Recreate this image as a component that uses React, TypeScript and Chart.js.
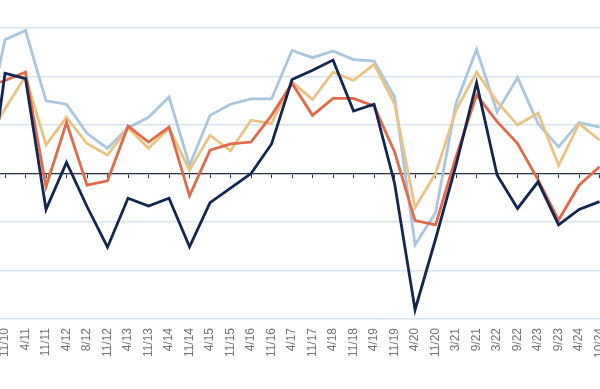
import React, { useEffect, useRef } from "react";
import { Chart, registerables } from "chart.js";

Chart.register(...registerables);

// Period labels (first one lies just left of the visible area)
const labels = [
  "4/10", "11/10", "4/11", "11/11", "4/12", "8/12", "11/12", "4/13", "11/13", "4/14",
  "11/14", "4/15", "11/15", "4/16", "11/16", "4/17", "11/17", "4/18", "11/18", "4/19",
  "11/19", "4/20", "11/20", "3/21", "9/21", "3/22", "9/22", "4/23", "9/23", "4/24", "10/24",
];

const navySeries = [
  -10.7, 20.7, 19.6, -7.4, 2.3, -6.8, -15.2, -5.1, -6.7, -5.1, -15.1, -6.0, -3.0, 0.0, 6.1,
  19.4, 21.3, 23.4, 12.9, 14.3, -2.0, -28.1, -13.5, 1.8, 18.7, -0.3, -7.2, -1.7, -10.6, -7.4, -5.8,
];
const orangeSeries = [
  17.8, 19.2, 20.9, -2.7, 10.5, -2.4, -1.5, 9.8, 6.5, 9.6, -4.6, 4.8, 6.1, 6.5, 12.0,
  18.6, 12.0, 15.5, 15.5, 13.9, 4.5, -9.7, -10.6, 3.5, 16.2, 10.7, 6.2, -1.3, -9.6, -2.4, 1.4,
];
const tanSeries = [
  6.1, 13.3, 20.1, 5.9, 11.6, 6.2, 3.8, 9.4, 5.2, 9.3, 0.7, 7.9, 4.7, 11.0, 10.3,
  18.9, 15.3, 20.9, 19.2, 22.5, 14.4, -7.0, 0.0, 13.1, 20.9, 14.8, 10.0, 12.5, 1.7, 10.3, 6.9,
];
const lightBlueSeries = [
  7.6, 27.6, 29.5, 15.0, 14.3, 8.3, 5.2, 9.4, 11.6, 15.8, 1.7, 12.0, 14.3, 15.4, 15.4,
  25.4, 23.9, 25.3, 23.5, 23.2, 15.8, -14.7, -8.1, 14.5, 25.6, 12.7, 19.8, 10.3, 5.5, 10.5, 9.6,
];

const X_MIN = 0.756;
const X_MAX = 30.02;
const Y_MIN = -30;
const Y_MAX = 35.8;

const toPoints = (arr: number[]) => arr.map((y, i) => ({ x: i, y }));

export default function App() {
  const ref = useRef<HTMLCanvasElement | null>(null);

  useEffect(() => {
    if (!ref.current) return;
    const mk = (data: number[], color: string) => ({
      data: toPoints(data),
      borderColor: color,
      backgroundColor: color,
      borderWidth: 2.8,
      pointRadius: 0,
      tension: 0,
      fill: false,
    });
    const noSidePadding = (scale: any) => {
      scale.paddingLeft = 0;
      scale.paddingRight = 0;
    };
    const chart = new Chart(ref.current, {
      type: "line",
      data: {
        datasets: [
          mk(navySeries, "#13264f"),
          mk(orangeSeries, "#e2694a"),
          mk(tanSeries, "#e9c383"),
          mk(lightBlueSeries, "#a9c6de"),
        ],
      },
      options: {
        animation: false,
        responsive: false,
        maintainAspectRatio: false,
        layout: { autoPadding: false, padding: { left: 0, right: 0, top: 0, bottom: 22 } },
        plugins: { legend: { display: false }, tooltip: { enabled: false }, title: { display: false } },
        scales: {
          x: {
            type: "linear",
            min: X_MIN,
            max: X_MAX,
            position: "bottom",
            afterFit: noSidePadding,
            grid: { display: false, drawTicks: false },
            border: { display: false },
            ticks: {
              stepSize: 1,
              includeBounds: false,
              autoSkip: false,
              minRotation: 90,
              maxRotation: 90,
              padding: 9,
              color: "#737373",
              font: { family: "'Liberation Sans', Arial, sans-serif", size: 12 },
              callback: (v: any) => labels[Math.round(Number(v))] ?? "",
            },
          },
          x2: {
            type: "linear",
            axis: "x",
            min: X_MIN,
            max: X_MAX,
            position: { y: 0 },
            afterFit: noSidePadding,
            grid: { drawOnChartArea: false, drawTicks: true, tickLength: 4, color: "#2f3645", lineWidth: 1 },
            border: { display: true, color: "#2f3645", width: 1.2 },
            ticks: { stepSize: 1, includeBounds: false, autoSkip: false, display: false },
          },
          y: {
            type: "linear",
            min: Y_MIN,
            max: Y_MAX,
            position: "left",
            grid: { color: "#dae4ee", lineWidth: 1.5, drawTicks: false },
            border: { display: false },
            ticks: { stepSize: 10, includeBounds: false, display: false },
          },
        },
      } as any,
    });
    return () => chart.destroy();
  }, []);

  return (
    <div style={{ position: "fixed", left: 0, top: 0, width: 600, height: 389, background: "#fff" }}>
      <canvas ref={ref} width={600} height={389} style={{ display: "block", width: 600, height: 389 }} />
    </div>
  );
}
